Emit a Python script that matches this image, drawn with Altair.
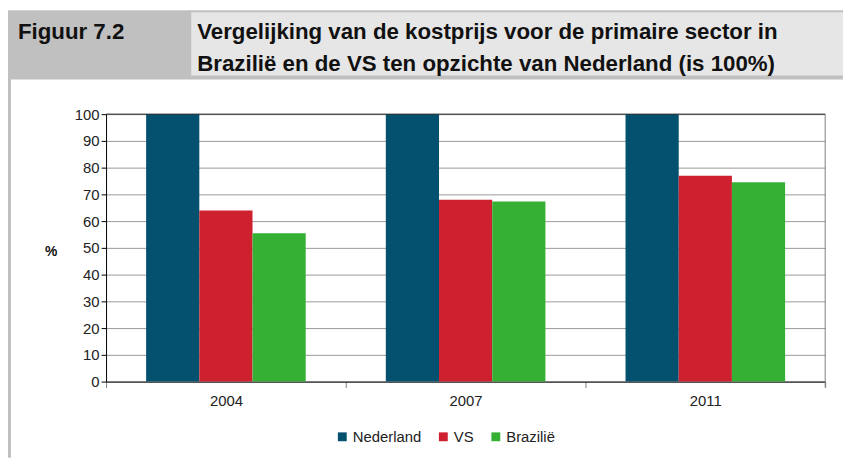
import altair as alt
import pandas as pd

# ---- data ----
jaren = ["2004", "2007", "2011"]
landen = ["Nederland", "VS", "Brazilië"]
nederland = [100, 100, 100]
vs = [64, 68, 77]
brazilie = [55.5, 67.3, 74.5]
kleuren = ["#03506f", "#cf2030", "#35b035"]
y_ticks = [0, 10, 20, 30, 40, 50, 60, 70, 80, 90, 100]

label_fig = "Figuur 7.2"
titel_1 = "Vergelijking van de kostprijs voor de primaire sector in"
titel_2 = "Brazilië en de VS ten opzichte van Nederland (is 100%)"

rows = []
for i, j in enumerate(jaren):
    rows.append({"jaar": j, "land": landen[0], "waarde": nederland[i]})
    rows.append({"jaar": j, "land": landen[1], "waarde": vs[i]})
    rows.append({"jaar": j, "land": landen[2], "waarde": brazilie[i]})
df = pd.DataFrame(rows)

W, H = 726, 270
PL, PT, PR, PB = 99, 105, 18, 77

FONT = "Liberation Sans"
HFONT = "Liberation Sans"

bars = alt.Chart(df).mark_bar().encode(
    x=alt.X(
        "jaar:N",
        sort=jaren,
        title=None,
        scale=alt.Scale(paddingInner=0, paddingOuter=0),
        axis=alt.Axis(
            labelAngle=0,
            tickBand="extent",
            tickColor="#808080",
            tickSize=6,
            domainColor="#000000",
            labelPadding=6,
            labelFont=FONT,
            labelFontSize=15,
            labelColor="#222222",
            grid=False,
        ),
    ),
    xOffset=alt.XOffset(
        "land:N", sort=landen, scale=alt.Scale(paddingInner=0, paddingOuter=0.753)
    ),
    y=alt.Y(
        "waarde:Q",
        scale=alt.Scale(domain=[0, 100]),
        axis=alt.Axis(
            values=y_ticks,
            title="%",
            titleAngle=0,
            titleX=-56,
            titleY=139,
            titleAlign="center",
            titleBaseline="middle",
            titleFont=FONT,
            titleFontSize=14,
            titleFontWeight="bold",
            titleColor="#111111",
            labelFont=FONT,
            labelFontSize=15,
            labelColor="#222222",
            labelPadding=2,
            tickSize=5,
            tickColor="#000000",
            domainColor="#000000",
            gridColor="#999999",
        ),
    ),
    color=alt.Color(
        "land:N",
        sort=landen,
        scale=alt.Scale(domain=landen, range=kleuren),
        legend=alt.Legend(
            orient="none",
            legendX=231,
            legendY=318,
            direction="horizontal",
            title=None,
            symbolType="square",
            symbolSize=80,
            symbolStrokeWidth=0,
            labelFont=FONT,
            labelFontSize=15,
            labelColor="#222222",
            labelOffset=3,
            columnPadding=14,
            padding=0,
        ),
    ),
)

one = pd.DataFrame({"a": [0]})
base = alt.Chart(one)

top_line = base.mark_rule(color="#222222", strokeWidth=1).encode(
    x=alt.value(0), x2=alt.value(W), y=alt.value(0)
)
right_line = base.mark_rule(color="#808080", strokeWidth=1).encode(
    x=alt.value(W), y=alt.value(0), y2=alt.value(H + 6)
)

hdr_band = base.mark_rect(color="#c0c0c0").encode(
    x=alt.value(-PL), x2=alt.value(W + PR), y=alt.value(-PT), y2=alt.value(-35)
)
hdr_light = base.mark_rect(color="#e6e6e6").encode(
    x=alt.value(86), x2=alt.value(W + PR), y=alt.value(-103), y2=alt.value(-39)
)
left_border = base.mark_rect(color="#c0c0c0").encode(
    x=alt.value(-PL), x2=alt.value(-PL + 3), y=alt.value(-36), y2=alt.value(H + PB)
)

def htext(txt, x, y):
    return base.mark_text(
        font=HFONT, fontSize=22.5, fontWeight="bold", color="#111111",
        align="left", baseline="alphabetic",
    ).encode(x=alt.value(x), y=alt.value(y), text=alt.value(txt))

chart = alt.layer(
    hdr_band, hdr_light, left_border,
    htext(label_fig, -89, -76),
    htext(titel_1, 92, -76),
    htext(titel_2, 92, -44),
    bars, top_line, right_line,
).properties(
    width=W,
    height=H,
    padding={"left": PL, "top": PT, "right": PR, "bottom": PB},
    autosize=alt.AutoSizeParams(type="none"),
    background="#ffffff",
).configure_view(strokeWidth=0)

chart.save("out.html", embed_options={"renderer": "svg", "actions": False})
